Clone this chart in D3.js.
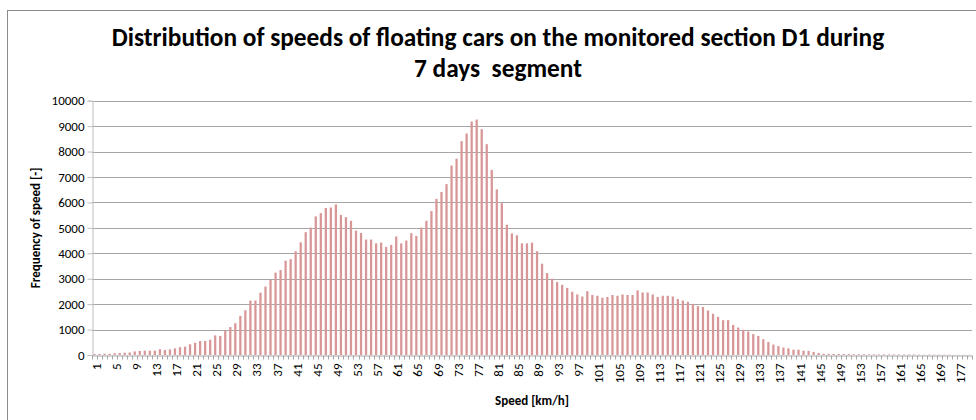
<!DOCTYPE html>
<html>
<head>
<meta charset="utf-8">
<script src="https://cdn.jsdelivr.net/npm/d3@7/dist/d3.min.js"></script>
<style>
    body { margin: 0; background: #fff; }
    svg text { font-family: Carlito, Calibri, Lato, sans-serif; fill: #000; }
</style>
</head>
<body>
<div id="chart"></div>
<script>
// Speed classes (173-176 are absent, so 177 follows 172)
var speeds = d3.range(1, 173).concat([177, 178, 179]);

// Frequency of each speed
var counts = [
    40, 40, 50, 50, 70, 80, 90, 100, 140, 160,
    170, 170, 170, 230, 200, 220, 260, 310, 330, 420,
    480, 550, 550, 600, 770, 750, 960, 1100, 1250, 1540,
    1760,
    2140, 2140, 2450, 2690, 2950, 3240, 3340, 3710, 3770, 4080,
    4430, 4830, 5010, 5450, 5580, 5780, 5800, 5920, 5510, 5420,
    5280, 4890, 4800, 4540, 4540, 4390, 4420, 4250, 4330, 4660,
    4390, 4500, 4790, 4680, 5010, 5280, 5660, 6140, 6410, 6720,
    7450, 7720, 8410, 8710, 9180, 9260, 8880, 8290, 7280, 6510,
    5970, 5120, 4780, 4710, 4390, 4390, 4420, 4080, 3590, 3220,
    3000, 2870, 2760, 2640, 2490, 2380, 2300, 2510, 2360, 2330,
    2250, 2280, 2360, 2330, 2380, 2360, 2360, 2540, 2460, 2460,
    2380, 2280, 2330, 2330, 2300, 2200, 2140, 2090, 2010, 1920,
    1890, 1750, 1620,
    1500, 1370, 1370, 1180, 1080, 990, 920, 820, 750, 620,
    510, 410, 350, 290, 260, 210, 210, 170, 160, 120,
    80, 50,
    45, 40, 40, 35, 35, 30, 30, 30, 25, 25,
    25, 25, 20, 20, 20, 20, 20, 20, 15, 15,
    15, 15, 15, 15, 15, 10, 10, 10, 10
];

var yTicks = [0, 1000, 2000, 3000, 4000, 5000, 6000, 7000, 8000, 9000, 10000];
var titleLines = ['Distribution of speeds of floating cars on the monitored section D1 during',
                  '7 days  segment'];
var yTitle = 'Frequency of speed [-]';
var xTitle = 'Speed [km/h]';

var W = 976, H = 420;
var plot = {left: 92, right: 972, top: 100.7, bottom: 355};

var svg = d3.select('#chart').append('svg')
            .attr('width', W)
            .attr('height', H);

// chart frame
svg.append('rect')
   .attr('x', 7.5).attr('y', 10.5)
   .attr('width', W + 10).attr('height', H + 10)
   .attr('fill', '#fff')
   .attr('stroke', '#8c8c8c');

var x = d3.scaleBand()
          .domain(speeds)
          .range([plot.left, plot.right])
          .paddingInner(0.55)
          .paddingOuter(0.275);

var y = d3.scaleLinear()
          .domain([0, 10000])
          .range([plot.bottom, plot.top]);

// gridlines
svg.append('g').selectAll('line')
   .data(yTicks.slice(1))
   .enter().append('line')
       .attr('x1', plot.left).attr('x2', plot.right)
       .attr('y1', function(d) { return Math.round(y(d)) + 0.5; })
       .attr('y2', function(d) { return Math.round(y(d)) + 0.5; })
       .attr('stroke', '#a6a6a6');

// bars
var data = speeds.map(function(s, i) { return {speed: s, count: counts[i]}; });
svg.append('g').selectAll('rect')
   .data(data)
   .enter().append('rect')
       .attr('x', function(d) { return x(d.speed); })
       .attr('width', x.bandwidth())
       .attr('y', function(d) { return y(d.count); })
       .attr('height', function(d) { return plot.bottom - y(d.count); })
       .attr('fill', '#d99697');

// y axis
var yAxis = d3.axisLeft(y).tickValues(yTicks).tickFormat(d3.format('d')).tickSize(5).tickPadding(3);
var gy = svg.append('g')
            .attr('transform', 'translate(' + (plot.left + 0.5) + ',0)')
            .call(yAxis);
gy.select('.domain').attr('stroke', '#bfbfbf');
gy.selectAll('.tick line').attr('stroke', '#bfbfbf');
gy.selectAll('.tick text').style('font-size', '13px').attr('fill', '#222');

// x axis: labels every 4th class, ticks between classes
var xAxis = d3.axisBottom(x)
              .tickValues(speeds.filter(function(d, i) { return i % 4 === 0; }))
              .tickSize(0);
var gx = svg.append('g')
            .attr('transform', 'translate(0,' + (plot.bottom + 0.5) + ')')
            .call(xAxis);
gx.select('.domain').attr('stroke', '#a6a6a6');
gx.selectAll('.tick text')
  .style('font-size', '13px')
  .attr('fill', '#222')
  .attr('transform', 'rotate(-90)')
  .attr('text-anchor', 'end')
  .attr('x', -8)
  .attr('y', 1.5)
  .attr('dy', '0.35em');

var gap = x.step() - x.bandwidth();
var bounds = speeds.map(function(s) { return x(s) - gap / 2; }).concat([plot.right]);
gx.append('g').selectAll('line')
  .data(bounds)
  .enter().append('line')
      .attr('x1', function(d) { return Math.round(d) + 0.5; })
      .attr('x2', function(d) { return Math.round(d) + 0.5; })
      .attr('y1', 0).attr('y2', 4)
      .attr('stroke', '#a6a6a6');

// titles
var title = svg.append('g').attr('font-weight', 'bold');
title.selectAll('text')
     .data(titleLines)
     .enter().append('text')
         .attr('x', 498)
         .attr('y', function(d, i) { return 46 + i * 31; })
         .attr('text-anchor', 'middle')
         .style('font-size', '22px')
         .style('white-space', 'pre')
         .text(function(d) { return d; });

// squeeze first title line to the reference width
var t0 = title.select('text').node();
var len = t0.getComputedTextLength();
var fs = 22 * 773 / len;
title.selectAll('text').style('font-size', fs + 'px');

svg.append('text')
   .attr('transform', 'translate(40,' + ((plot.top + plot.bottom) / 2) + ') rotate(-90)')
   .attr('text-anchor', 'middle')
   .attr('font-weight', 'bold')
   .style('font-size', '13px')
   .text(yTitle);

svg.append('text')
   .attr('x', 532)
   .attr('y', 405)
   .attr('text-anchor', 'middle')
   .attr('font-weight', 'bold')
   .style('font-size', '13px')
   .text(xTitle);
</script>
</body>
</html>
